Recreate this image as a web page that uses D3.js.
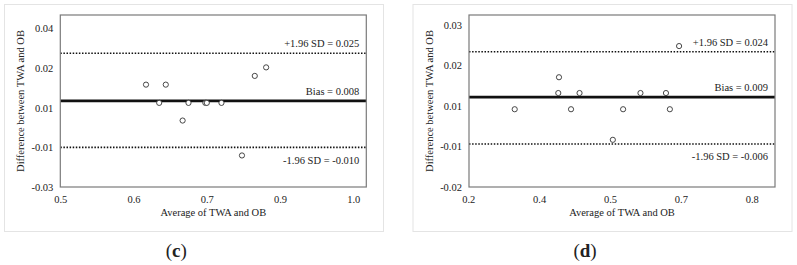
<!DOCTYPE html>
<meta charset="utf-8">
<script src="https://d3js.org/d3.v7.min.js"></script>
<style>
  body { margin: 0; background: #fff; }
  text { font-family: "Liberation Serif", "Times New Roman", serif; fill: #222; }
</style>
<div id="chart"></div>
<script>

// panel (c)
var xTicksC = [0.5, 0.6, 0.7, 0.9, 1.0];
var yTicksC = [-0.03, -0.01, 0.01, 0.02, 0.04];
var meanC = [0.617, 0.644, 0.635, 0.675, 0.667, 0.698, 0.700, 0.740, 0.796, 0.831, 0.862];
var diffC = [0.0158, 0.0158, 0.0112, 0.0112, 0.0035, 0.0112, 0.0112, 0.0112, -0.0141, 0.0180, 0.0203];
var limitsC = [0.0274, 0.0117, -0.0100];
var limitLabelsC = ["+1.96 SD = 0.025", "Bias = 0.008", "-1.96 SD = -0.010"];

// panel (d)
var xTicksD = [0.2, 0.4, 0.5, 0.7, 0.8];
var yTicksD = [-0.02, -0.01, 0.01, 0.02, 0.03];
var meanD = [0.331, 0.428, 0.427, 0.445, 0.457, 0.508, 0.537, 0.586, 0.658, 0.669, 0.695];
var diffD = [0.0084, 0.0171, 0.0132, 0.0084, 0.0132, -0.0067, 0.0084, 0.0132, 0.0132, 0.0084, 0.0248];
var limitsD = [0.0234, 0.0122, -0.0088];
var limitLabelsD = ["+1.96 SD = 0.024", "Bias = 0.009", "-1.96 SD = -0.006"];

var panelNames = ["c", "d"];

var svg = d3.select("#chart").append("svg")
    .attr("width", 797)
    .attr("height", 265);

var w = 306, h = 172;

function drawPanel(cfg) {
  // light outer box
  svg.append("rect")
    .attr("x", cfg.boxX + 0.5).attr("y", 4.5)
    .attr("width", 379).attr("height", 227)
    .attr("fill", "none").attr("stroke", "#e4e4e4");

  var g = svg.append("g")
    .attr("transform", "translate(" + cfg.left + ",15)");

  // tick labels are unevenly valued but evenly spaced, so use a polylinear scale
  var x = d3.scaleLinear()
    .domain(cfg.xTicks)
    .range(cfg.xTicks.map(function(d, i) { return cfg.x0 + i * (cfg.x1 - cfg.x0) / 4; }));
  var y = d3.scaleLinear()
    .domain(cfg.yTicks)
    .range(cfg.yTicks.map(function(d, i) { return h - i * (h - cfg.yTop) / 4; }));

  g.append("g")
    .attr("transform", "translate(0," + h + ")")
    .call(d3.axisBottom(x).tickValues(cfg.xTicks).tickSize(0).tickPadding(9)
      .tickFormat(function(d) { return d.toFixed(1); }))
    .call(function(a) { a.select(".domain").remove(); })
    .selectAll("text").attr("font-size", 10.5).attr("font-family", null).attr("fill", "#222");

  g.append("g")
    .call(d3.axisLeft(y).tickValues(cfg.yTicks).tickSize(0).tickPadding(7)
      .tickFormat(function(d) { return d.toFixed(2); }))
    .call(function(a) { a.select(".domain").remove(); })
    .selectAll("text").attr("font-size", 10.5).attr("font-family", null).attr("fill", "#222");

  // limits of agreement and bias
  g.selectAll(".limit")
    .data(cfg.limits)
    .enter().append("line")
    .attr("x1", 0).attr("x2", w)
    .attr("y1", function(d) { return y(d); })
    .attr("y2", function(d) { return y(d); })
    .attr("stroke", "#111")
    .attr("stroke-width", function(d, i) { return i == 1 ? 2.6 : 1.6; })
    .attr("stroke-dasharray", function(d, i) { return i == 1 ? null : "1.5,1.6"; });

  g.selectAll(".limit-label")
    .data(cfg.limits)
    .enter().append("text")
    .attr("x", w - 7)
    .attr("y", function(d, i) { return y(d) + (i == 2 ? 12.5 : -9.5); })
    .attr("dy", "0.35em")
    .attr("text-anchor", "end")
    .attr("font-size", 10.5)
    .text(function(d, i) { return cfg.limitLabels[i]; });

  // points
  g.selectAll("circle")
    .data(cfg.mean)
    .enter().append("circle")
    .attr("cx", function(d) { return x(d); })
    .attr("cy", function(d, i) { return y(cfg.diff[i]); })
    .attr("r", 2.6)
    .attr("fill", "#fff")
    .attr("stroke", "#333")
    .attr("stroke-width", 0.9);

  // plot frame
  g.append("rect")
    .attr("width", w).attr("height", h)
    .attr("fill", "none")
    .attr("stroke", "#7a7a7a")
    .attr("stroke-width", 1.2);

  // axis titles
  g.append("text")
    .attr("x", w / 2).attr("y", h + 29)
    .attr("text-anchor", "middle")
    .attr("font-size", 10.5)
    .text("Average of TWA and OB");

  g.append("text")
    .attr("transform", "translate(-36," + (h / 2) + ") rotate(-90)")
    .attr("text-anchor", "middle")
    .attr("font-size", 10.5)
    .text("Difference between TWA and OB");

  // panel letter
  var lab = svg.append("text")
    .attr("x", cfg.left + 116).attr("y", 257)
    .attr("text-anchor", "middle")
    .attr("font-size", 19)
    .attr("fill", "#111");
  lab.append("tspan").text("(");
  lab.append("tspan").attr("font-weight", "bold").text(cfg.name);
  lab.append("tspan").text(")");
}

drawPanel({ name: panelNames[0], boxX: 4, left: 60.3, x0: 0, x1: 293, yTop: 13.3,
  xTicks: xTicksC, yTicks: yTicksC, mean: meanC, diff: diffC,
  limits: limitsC, limitLabels: limitLabelsC });

drawPanel({ name: panelNames[1], boxX: 412.5, left: 469, x0: -0.7, x1: 282.7, yTop: 10,
  xTicks: xTicksD, yTicks: yTicksD, mean: meanD, diff: diffD,
  limits: limitsD, limitLabels: limitLabelsD });

</script>
